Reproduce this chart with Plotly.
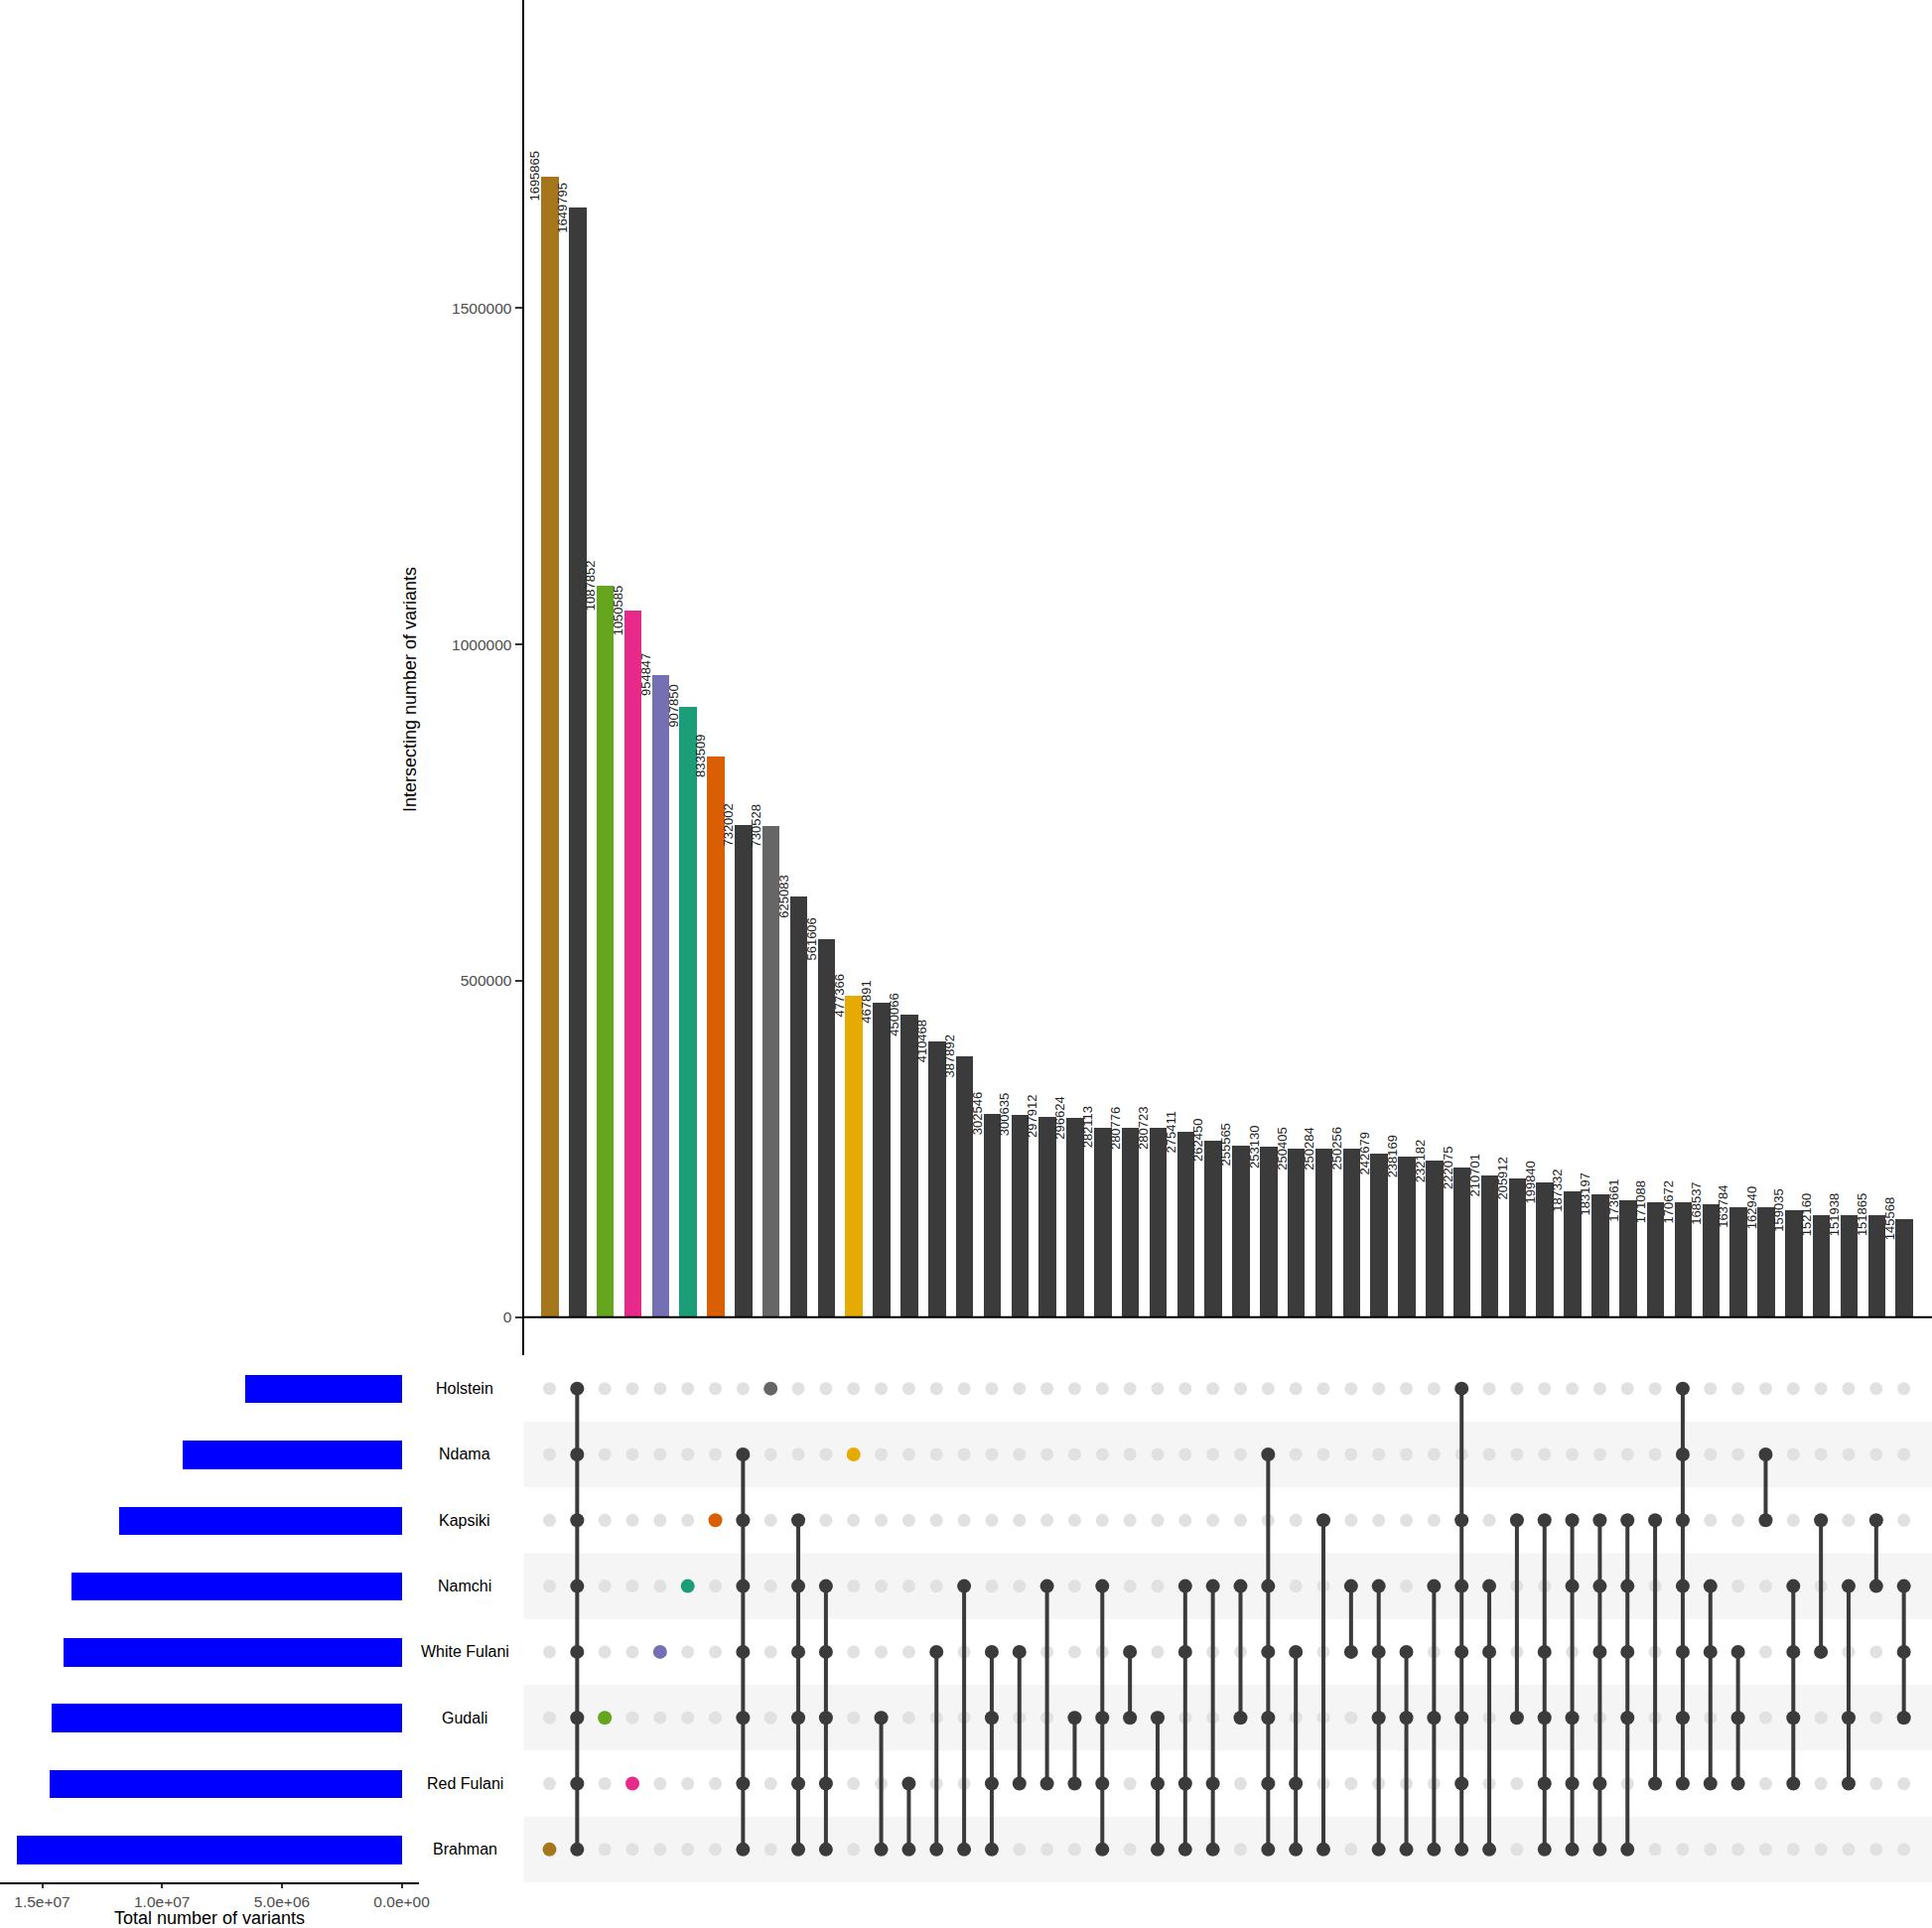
import plotly.graph_objects as go

W, H = 1946, 1942

# ---------------- data ----------------
sets = ["Holstein", "Ndama", "Kapsiki", "Namchi", "White Fulani", "Gudali", "Red Fulani", "Brahman"]
set_sizes = [6.53e6, 9.15e6, 11.77e6, 13.78e6, 14.09e6, 14.6e6, 14.7e6, 16.04e6]

intersection_sizes = [1695865, 1649795, 1087852, 1050585, 954847, 907850, 833509, 732002, 730528, 625083,
                      561606, 477366, 467891, 450066, 410468, 387892, 302546, 300635, 297912, 296624,
                      282113, 280776, 280723, 275411, 262450, 255565, 253130, 250405, 250284, 250256,
                      242679, 238169, 232182, 222075, 210701, 205912, 199840, 187332, 183197, 173661,
                      171088, 170672, 168537, 163784, 162940, 159035, 152160, 151938, 151865, 145568]

H_, N_, K_, Nm, WF, G_, RF, B_ = sets
intersections = [
    [B_],
    [H_, N_, K_, Nm, WF, G_, RF, B_],
    [G_],
    [RF],
    [WF],
    [Nm],
    [K_],
    [N_, K_, Nm, WF, G_, RF, B_],
    [H_],
    [K_, Nm, WF, G_, RF, B_],
    [Nm, WF, G_, RF, B_],
    [N_],
    [G_, B_],
    [RF, B_],
    [WF, B_],
    [Nm, B_],
    [WF, G_, RF, B_],
    [WF, RF],
    [Nm, RF],
    [G_, RF],
    [Nm, G_, RF, B_],
    [WF, G_],
    [G_, RF, B_],
    [Nm, WF, RF, B_],
    [Nm, RF, B_],
    [Nm, G_],
    [N_, Nm, WF, G_, RF, B_],
    [WF, RF, B_],
    [K_, B_],
    [Nm, WF],
    [Nm, WF, G_, B_],
    [WF, G_, B_],
    [Nm, G_, B_],
    [H_, K_, Nm, WF, G_, RF, B_],
    [Nm, WF, B_],
    [K_, G_],
    [K_, WF, G_, RF, B_],
    [K_, Nm, G_, RF, B_],
    [K_, Nm, WF, RF, B_],
    [K_, Nm, WF, G_, B_],
    [K_, RF],
    [H_, N_, K_, Nm, WF, G_, RF],
    [Nm, WF, RF],
    [WF, G_, RF],
    [N_, K_],
    [Nm, WF, G_, RF],
    [K_, WF],
    [Nm, G_, RF],
    [K_, Nm],
    [Nm, WF, G_],
]

single_colors = {"Brahman": "#A6761D", "Gudali": "#66A61E", "Red Fulani": "#E7298A",
                 "White Fulani": "#7570B3", "Namchi": "#1B9E77", "Kapsiki": "#D95F02",
                 "Holstein": "#666666", "Ndama": "#E6AB02"}
DARK = "#3B3B3B"
EMPTY = "#E1E1E1"
BAND = "#F5F5F5"
FONT = "Liberation Sans, Arial, Helvetica, sans-serif"

# ---------------- geometry (pixels) ----------------
def px_x(p):
    return p / W

def px_y(p):
    return 1 - p / H

col0_px, col_step = 553.5, 27.84
top_left_px = 527.5
x_lo = (top_left_px - col0_px) / col_step
x_hi = (W - col0_px) / col_step

base_px, per_px = 1326.7, 5e5 / 338.8
axis_bottom_px = 1365.0
y_hi = base_px * per_px
y_lo = -(axis_bottom_px - base_px) * per_px

mat_top_px, mat_bot_px = 1365.5, 1896.0

left_zero_px, left_per_px = 404.6, 5e6 / 120.7
left_right_px = 422.0

n = len(intersection_sizes)
xs = list(range(n))
nrows = len(sets)
row_y = {s: nrows - 1 - i for i, s in enumerate(sets)}

bar_colors = [single_colors[c[0]] if len(c) == 1 else DARK for c in intersections]

fig = go.Figure()

# top intersection bars
fig.add_trace(go.Bar(x=xs, y=intersection_sizes, marker=dict(color=bar_colors, line=dict(width=0)),
                     width=0.63, xaxis="x", yaxis="y", showlegend=False, hoverinfo="skip"))

# matrix: empty dots
ex, ey = [], []
for i, comb in enumerate(intersections):
    for s in sets:
        if s not in comb:
            ex.append(i)
            ey.append(row_y[s])
fig.add_trace(go.Scatter(x=ex, y=ey, mode="markers", marker=dict(size=13, color=EMPTY),
                         xaxis="x2", yaxis="y2", showlegend=False, hoverinfo="skip"))

# matrix: connecting lines
lx, ly = [], []
for i, comb in enumerate(intersections):
    if len(comb) > 1:
        ys = [row_y[s] for s in comb]
        lx += [i, i, None]
        ly += [min(ys), max(ys), None]
fig.add_trace(go.Scatter(x=lx, y=ly, mode="lines", line=dict(color=DARK, width=4),
                         xaxis="x2", yaxis="y2", showlegend=False, hoverinfo="skip"))

# matrix: filled dots
fx, fy, fc = [], [], []
for i, comb in enumerate(intersections):
    for s in comb:
        fx.append(i)
        fy.append(row_y[s])
        fc.append(single_colors[s] if len(comb) == 1 else DARK)
fig.add_trace(go.Scatter(x=fx, y=fy, mode="markers", marker=dict(size=14, color=fc),
                         xaxis="x2", yaxis="y2", showlegend=False, hoverinfo="skip"))

# left set-size bars
fig.add_trace(go.Bar(x=set_sizes, y=[row_y[s] for s in sets], orientation="h",
                     marker=dict(color="#0000FF", line=dict(width=0)), width=0.43,
                     xaxis="x3", yaxis="y3", showlegend=False, hoverinfo="skip"))

top_dom_x = [px_x(top_left_px), 1.0]
mat_dom_y = [px_y(mat_bot_px), px_y(mat_top_px)]
TICKFONT = dict(size=15.5, color="#4D4D4D", family=FONT)

fig.update_layout(
    template="none",
    width=W, height=H, autosize=False,
    margin=dict(l=0, r=0, t=0, b=0, pad=0, autoexpand=False),
    paper_bgcolor="white", plot_bgcolor="rgba(0,0,0,0)",
    font=dict(family=FONT, color="black"),
    bargap=0,
    xaxis=dict(domain=top_dom_x, range=[x_lo, x_hi], showticklabels=False, showgrid=False,
               zeroline=False, showline=False, ticks="", anchor="y", automargin=False),
    yaxis=dict(domain=[px_y(axis_bottom_px), 1.0], range=[y_lo, y_hi], showgrid=False,
               zeroline=False, showline=True, linecolor="black", linewidth=2,
               ticks="outside", ticklen=7, tickwidth=2, tickcolor="#333333",
               tickvals=[0, 500000, 1000000, 1500000],
               ticktext=["0", "500000", "1000000", "1500000"],
               tickfont=TICKFONT, anchor="x", automargin=False),
    xaxis2=dict(domain=top_dom_x, range=[x_lo, x_hi], showticklabels=False, showgrid=False,
                zeroline=False, showline=False, ticks="", anchor="y2", automargin=False),
    yaxis2=dict(domain=mat_dom_y, range=[-0.5, nrows - 0.5], showticklabels=False,
                showgrid=False, zeroline=False, showline=False, ticks="", anchor="x2", automargin=False),
    xaxis3=dict(domain=[0, px_x(left_right_px)],
                range=[left_zero_px * left_per_px, -(left_right_px - left_zero_px) * left_per_px],
                showgrid=False, zeroline=False, showline=True, linecolor="black", linewidth=2,
                ticks="outside", ticklen=4, tickwidth=2, tickcolor="#333333",
                tickvals=[0, 5e6, 1e7, 1.5e7],
                ticktext=["0.0e+00", "5.0e+06", "1.0e+07", "1.5e+07"],
                tickfont=TICKFONT, anchor="y3", side="bottom", automargin=False),
    yaxis3=dict(domain=mat_dom_y, range=[-0.5, nrows - 0.5], showticklabels=False,
                showgrid=False, zeroline=False, showline=False, ticks="", anchor="x3", automargin=False),
)

shapes = []
# alternating bands in matrix
for i, s in enumerate(sets):
    if i % 2 == 1:
        shapes.append(dict(type="rect", xref="paper", yref="y2", x0=top_dom_x[0], x1=1.0,
                           y0=row_y[s] - 0.5, y1=row_y[s] + 0.5, fillcolor=BAND,
                           line=dict(width=0), layer="below"))
# baseline of the top chart
shapes.append(dict(type="line", xref="paper", yref="y", x0=top_dom_x[0], x1=1.0, y0=0, y1=0,
                   line=dict(color="black", width=2)))
fig.update_layout(shapes=shapes)

ann = []
# value labels
for i, v in enumerate(intersection_sizes):
    ann.append(dict(x=i, y=v, xref="x", yref="y", text=str(v), showarrow=False, textangle=-90,
                    xshift=-14.5, font=dict(size=13, color="#222222", family=FONT),
                    xanchor="center", yanchor="middle"))
# set labels
for s in sets:
    ann.append(dict(x=px_x(468), y=row_y[s], xref="paper", yref="y2", text=s, showarrow=False,
                    font=dict(size=16, color="black", family=FONT), xanchor="center", yanchor="middle"))
# axis titles
ann.append(dict(x=px_x(413), y=px_y(695), xref="paper", yref="paper",
                text="Intersecting number of variants", showarrow=False, textangle=-90,
                font=dict(size=18, color="black", family=FONT), xanchor="center", yanchor="middle"))
ann.append(dict(x=px_x(211), y=px_y(1932), xref="paper", yref="paper",
                text="Total number of variants", showarrow=False,
                font=dict(size=18, color="black", family=FONT), xanchor="center", yanchor="middle"))
fig.update_layout(annotations=ann)

fig.write_html("out.html", config={"displayModeBar": False, "responsive": False},
               post_script="document.body.style.margin='0px';document.body.style.overflow='hidden';"
                           "document.documentElement.style.overflow='hidden';")
